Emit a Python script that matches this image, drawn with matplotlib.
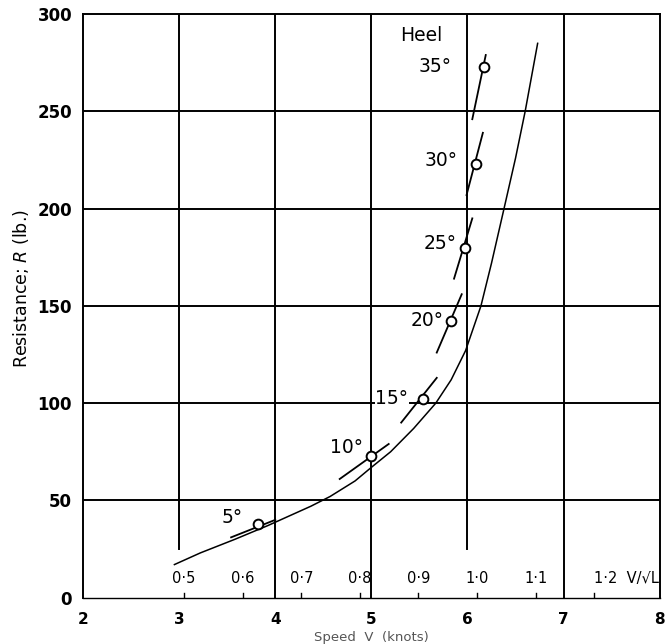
import numpy as np
import matplotlib
matplotlib.use('Agg')
import matplotlib.pyplot as plt

plt.rcParams['font.family'] = ['DejaVu Sans']

# main resistance curve (upright)
curve_v = [2.95, 3.22, 3.58, 3.92, 4.37, 4.57, 4.83, 5.0, 5.2, 5.44, 5.67, 5.83,
           5.98, 6.14, 6.25, 6.38, 6.5, 6.6, 6.73]
curve_r = [17, 23, 30, 37, 47, 52, 60, 67, 75, 87, 100, 112,
           127, 150, 172, 200, 226, 250, 285]

# heeled runs
heel = ['5°', '10°', '15°', '20°', '25°', '30°', '35°']
heel_v = [3.82, 5.0, 5.54, 5.83, 5.97, 6.09, 6.17]
heel_r = [38, 73, 102, 142, 180, 223, 273]
# short dashes through each point
dash_v0 = [3.54, 4.67, 5.31, 5.68, 5.86, 5.99, 6.05]
dash_r0 = [31, 61, 90, 126, 164, 207, 246]
dash_v1 = [4.0, 5.18, 5.68, 5.94, 6.05, 6.16, 6.19]
dash_r1 = [40, 79, 113, 156, 195, 239, 279]
# label offsets (pixels) relative to each point
lab_dx = [-15, -8, -15, -8, -8, -19, -32]
lab_dy = [6, 8, 1, 1, 4, 3, 0]

# secondary scale V/sqrt(L)
ratio = [0.5, 0.6, 0.7, 0.8, 0.9, 1.0, 1.1, 1.2]
ratio_lab = ['0·5', '0·6', '0·7', '0·8', '0·9', '1·0', '1·1', '1·2  V/√L']
sqrt_L = 6.1

xticks = [2, 3, 4, 5, 6, 7, 8]
yticks = [0, 50, 100, 150, 200, 250, 300]

fig = plt.figure(figsize=(6.65, 6.44), dpi=100)
ax = fig.add_axes([0.125, 0.072, 0.867, 0.906])
ax.set_xlim(2, 8)
ax.set_ylim(0, 300)

# grid: horizontal full width, verticals partly stop short
for y in yticks[1:-1]:
    ax.axhline(y, color='black', lw=1.4, zorder=1)
for x in xticks[1:-1]:
    lo = 25 if x in (3, 6) else 0
    ax.plot([x, x], [lo, 300], color='black', lw=1.4, zorder=1)

ax.plot(curve_v, curve_r, color='black', lw=1.1, zorder=2)

for i in range(len(heel)):
    ax.plot([dash_v0[i], dash_v1[i]], [dash_r0[i], dash_r1[i]], color='black', lw=1.3, zorder=2)
    ax.plot(heel_v[i], heel_r[i], 'o', ms=7, mfc='white', mec='black', mew=1.4, zorder=3)
    ax.annotate(heel[i], (heel_v[i], heel_r[i]), xytext=(lab_dx[i], lab_dy[i]),
                textcoords='offset pixels', ha='right', va='center', fontsize=13.5,
                bbox=dict(fc='white', ec='none', pad=0.5), zorder=4)

ax.text(5.52, 289, 'Heel', ha='center', va='center', fontsize=13.5)

sec_v = np.array(ratio) * sqrt_L
for v, t in zip(sec_v, ratio_lab):
    ax.plot([v, v], [0, 2.5], color='black', lw=1.0)
    ax.text(v, 10, t, ha='left' if t.startswith('1·2') else 'center', va='center',
            fontsize=10.5)

ax.set_xticks(xticks)
ax.set_yticks(yticks)
ax.set_xticklabels([str(t) for t in xticks], fontsize=11, fontweight='bold')
ax.set_yticklabels([str(t) for t in yticks], fontsize=12, fontweight='bold')
ax.tick_params(axis='y', length=0, pad=8)
ax.tick_params(axis='x', length=0, pad=10)
for s in ax.spines.values():
    s.set_linewidth(1.4)
ax.spines['bottom'].set_linewidth(1.0)

ax.set_ylabel('Resistance; $R$ (lb.)', fontsize=12.5)
ax.yaxis.set_label_coords(-0.09, 0.53)
ax.set_xlabel('Speed  V  (knots)', fontsize=9.5, color='#555555', labelpad=3)

fig.savefig('out.png', dpi=100)
